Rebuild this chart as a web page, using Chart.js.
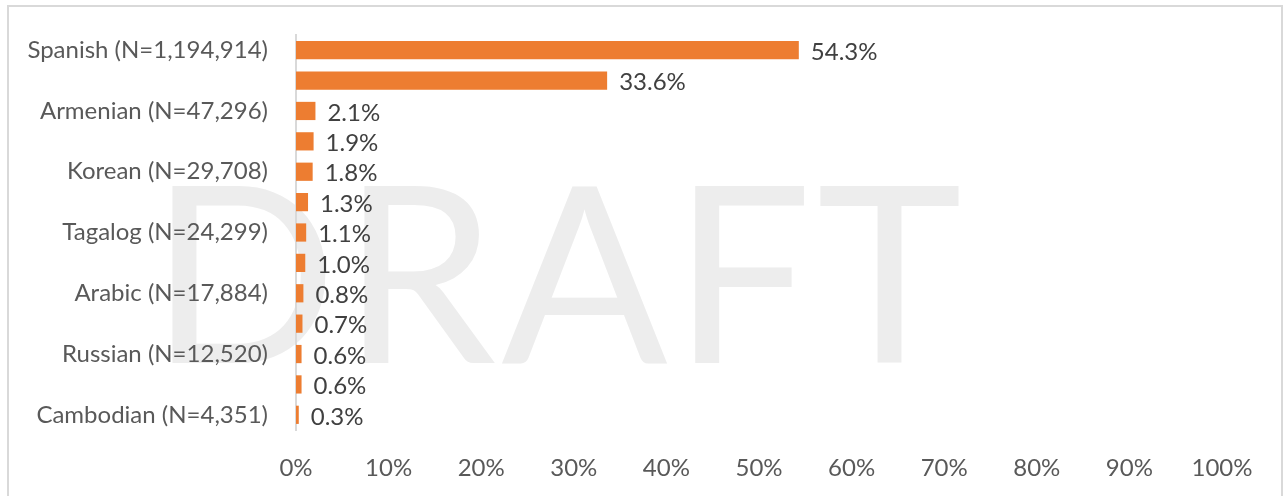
<!DOCTYPE html>
<html>
<head>
<meta charset="utf-8">
<script src="https://cdn.jsdelivr.net/npm/chart.js@4"></script>
<style>
  body { margin: 0; background: #fff; }
  #marco { position: absolute; left: 7px; top: 5px; width: 1272px; height: 500px; border: 2px solid #D9D9D9; border-bottom: none; }
  #grafico { position: absolute; left: 0; top: 0; }
</style>
</head>
<body>
<div id="marco"></div>
<canvas id="grafico" width="1284" height="496"></canvas>
<script>
// categorias (Excel solo mostro una de cada dos)
const idiomas = ["Spanish (N=1,194,914)", "", "Armenian (N=47,296)", "", "Korean (N=29,708)", "",
  "Tagalog (N=24,299)", "", "Arabic (N=17,884)", "", "Russian (N=12,520)", "", "Cambodian (N=4,351)"];
const porcentajes = [54.3, 33.6, 2.1, 1.9, 1.8, 1.3, 1.1, 1.0, 0.8, 0.7, 0.6, 0.6, 0.3];
const ticksX = [0, 10, 20, 30, 40, 50, 60, 70, 80, 90, 100];

const fuente = "Lato, 'Open Sans', sans-serif";

// marca de agua DRAFT detras de todo
const marcaAgua = {
  id: 'marcaAgua',
  beforeDraw(chart) {
    const ctx = chart.ctx;
    ctx.save();
    ctx.font = "246px " + fuente;
    ctx.letterSpacing = "5px";
    ctx.fillStyle = "#EDEDED";
    ctx.textBaseline = "alphabetic";
    ctx.textAlign = "left";
    ctx.fillText("DRAFT", 150, 363);
    ctx.restore();
  }
};

// etiquetas de valor al final de cada barra
const etiquetas = {
  id: 'etiquetas',
  afterDatasetsDraw(chart) {
    const ctx = chart.ctx;
    const meta = chart.getDatasetMeta(0);
    ctx.save();
    ctx.font = "24px " + fuente;
    ctx.fillStyle = "#404040";
    ctx.textBaseline = "middle";
    ctx.textAlign = "left";
    meta.data.forEach((barra, i) => {
      ctx.fillText(porcentajes[i].toFixed(1) + "%", barra.x + 12, barra.y + 2);
    });
    ctx.restore();
  }
};

new Chart(document.querySelector("#grafico"), {
  type: 'bar',
  data: {
    labels: idiomas,
    datasets: [{
      data: porcentajes,
      backgroundColor: "#ED7D31",
      categoryPercentage: 0.6,
      barPercentage: 1
    }]
  },
  options: {
    indexAxis: 'y',
    responsive: false,
    animation: false,
    layout: { padding: { top: 35, right: 62, bottom: 0, left: 0 } },
    plugins: { legend: { display: false }, tooltip: { enabled: false } },
    scales: {
      x: {
        min: 0,
        max: 100,
        afterBuildTicks(scale) { scale.ticks = ticksX.map(v => ({ value: v })); },
        afterFit(scale) { scale.height = 66; },
        grid: { display: false, drawTicks: false },
        border: { display: false },
        ticks: {
          autoSkip: false,
          maxRotation: 0,
          padding: 24,
          color: "#595959",
          font: { family: fuente, size: 24 },
          callback: v => v + "%"
        }
      },
      y: {
        afterFit(scale) {
          scale.width = 296;
          scale.paddingTop = 0;
          scale.paddingBottom = 0;
        },
        grid: { display: false, drawTicks: false },
        border: { display: true, color: "#D9D9D9", width: 2 },
        ticks: {
          autoSkip: false,
          padding: 28,
          color: "#595959",
          font: { family: fuente, size: 24 }
        }
      }
    }
  },
  plugins: [marcaAgua, etiquetas]
});
</script>
</body>
</html>
